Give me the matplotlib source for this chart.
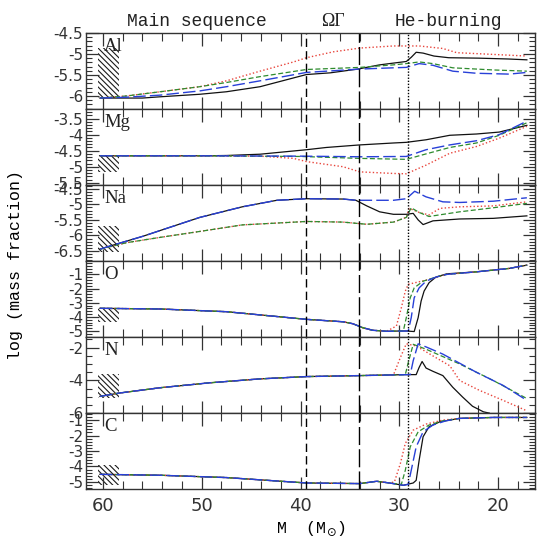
import matplotlib
matplotlib.use("Agg")
import matplotlib.pyplot as plt
from matplotlib.patches import Rectangle
from matplotlib.ticker import MultipleLocator, FixedLocator, FixedFormatter

# ---------------- data ----------------
# Al
AL_K_M = [60.3, 56, 54.2, 50.2, 47.5, 44.1, 40.7, 39.4, 37, 34.2, 32, 30, 29.3, 28.8, 28.3, 27.6, 26.5, 25, 22, 19, 17.1]
AL_K = [-6.05, -6.05, -6.02, -5.96, -5.9, -5.78, -5.57, -5.49, -5.45, -5.36, -5.26, -5.2, -5.18, -5.08, -4.96, -4.98, -5.05, -5.09, -5.1, -5.12, -5.14]
AL_R_M = [60.3, 57.6, 54.2, 50.2, 47.5, 44.1, 40.7, 39.4, 36.7, 34.0, 30.6, 28.0, 25.6, 24.2, 20.6, 17.1]
AL_R = [-6.05, -6.0, -5.9, -5.78, -5.64, -5.41, -5.19, -5.09, -4.95, -4.86, -4.81, -4.81, -4.87, -4.97, -5.01, -5.05]
AL_G_M = [60.3, 57.6, 54.2, 50.2, 47.5, 44.1, 39.4, 34.0, 30.6, 29.3, 28.0, 26.6, 24.6, 20.6, 17.1]
AL_G = [-6.05, -6.0, -5.9, -5.78, -5.68, -5.54, -5.37, -5.32, -5.26, -5.23, -5.19, -5.23, -5.33, -5.38, -5.41]
AL_B_M = [60.3, 57.6, 54.2, 50.2, 47.5, 44.1, 39.4, 34.0, 30.6, 29.3, 28.0, 26.6, 24.6, 22.2, 18.9, 17.1]
AL_B = [-6.05, -6.03, -5.98, -5.88, -5.78, -5.64, -5.44, -5.36, -5.33, -5.32, -5.23, -5.27, -5.41, -5.46, -5.48, -5.44]

# Mg
MG_K_M = [60.3, 50, 47.5, 44.1, 39.4, 37.4, 34.0, 30.6, 29.3, 27.3, 24.9, 22.2, 19.9, 17.1]
MG_K = [-4.66, -4.66, -4.65, -4.61, -4.47, -4.4, -4.32, -4.26, -4.24, -4.16, -4.02, -3.98, -3.92, -3.71]
MG_R_M = [60.3, 50, 44.1, 40.7, 39.4, 35.7, 34.0, 30.6, 29.3, 27.3, 24.9, 22.2, 19.9, 17.1]
MG_R = [-4.66, -4.66, -4.67, -4.74, -4.84, -5.0, -5.16, -5.21, -5.22, -4.95, -4.58, -4.37, -4.11, -3.74]
MG_G_M = [60.3, 50, 40, 34.0, 29.3, 27.3, 24.9, 22.2, 19.9, 17.1]
MG_G = [-4.66, -4.66, -4.68, -4.74, -4.77, -4.6, -4.4, -4.26, -4.02, -3.63]
MG_B_M = [60.3, 50, 40, 34.0, 29.3, 27.3, 24.9, 22.2, 19.9, 17.1]
MG_B = [-4.66, -4.66, -4.67, -4.69, -4.68, -4.47, -4.32, -4.19, -4.0, -3.58]

# Na
NA_K_M = [60.3, 59.3, 57.6, 55.9, 54.2, 50.2, 45.9, 42.4, 39.4, 35.7, 34.4, 33.3, 32.0, 30.6, 29.3, 28.6, 28.1, 27.6, 26.6, 23.9, 20.5, 17.1]
NA_K = [-6.44, -6.34, -6.18, -6.02, -5.84, -5.42, -5.08, -4.87, -4.82, -4.83, -4.87, -5.05, -5.24, -5.32, -5.32, -5.29, -5.5, -5.65, -5.53, -5.47, -5.45, -5.37]
NA_B_M = [60.3, 59.3, 57.6, 55.9, 54.2, 50.2, 45.9, 42.4, 39.4, 35.7, 34.4, 30.6, 29.3, 28.45, 27.3, 25.6, 23.9, 20.5, 17.1]
NA_B = [-6.44, -6.34, -6.18, -6.02, -5.84, -5.42, -5.08, -4.87, -4.82, -4.83, -4.87, -4.87, -4.82, -4.58, -4.76, -4.92, -4.94, -4.9, -4.79]
NA_G_M = [60.3, 57.6, 54.2, 50.2, 45.9, 39.4, 35.7, 33.3, 30.6, 29.3, 28.8, 28.0, 27.0, 23.9, 20.5, 17.1]
NA_G = [-6.44, -6.23, -6.06, -5.87, -5.66, -5.55, -5.57, -5.64, -5.57, -5.42, -5.11, -5.26, -5.39, -5.24, -5.11, -4.97]
NA_R_M = [60.3, 57.6, 54.2, 50.2, 45.9, 39.4, 35.7, 33.3, 30.6, 29.3, 29.0, 28.0, 27.0, 25.9, 23.9, 20.5, 17.1]
NA_R = [-6.44, -6.23, -6.06, -5.87, -5.66, -5.55, -5.57, -5.64, -5.57, -5.42, -5.13, -5.26, -5.34, -5.13, -5.08, -5.05, -4.92]

# O
O_K_M = [60.3, 54.2, 47.5, 39.4, 35.7, 34.7, 33.7, 32.7, 31.3, 29.9, 29.3, 28.5, 28.1, 27.8, 27.5, 27.0, 26.3, 25.2, 22.2, 18.9, 17.1]
O_K = [-3.39, -3.44, -3.63, -4.17, -4.34, -4.48, -4.76, -4.94, -5.01, -4.99, -4.99, -5.03, -4.05, -2.88, -2.18, -1.59, -1.19, -0.96, -0.82, -0.58, -0.35]
O_R_M = [60.3, 54.2, 47.5, 39.4, 35.7, 34.7, 33.7, 32.7, 31.3, 30.3, 29.8, 29.4, 29.1, 28.0, 26.6, 25.2, 22.2, 18.9, 17.1]
O_R = [-3.39, -3.44, -3.63, -4.17, -4.34, -4.48, -4.76, -4.94, -5.01, -4.64, -3.35, -2.18, -1.7, -1.52, -1.29, -1.0, -0.82, -0.58, -0.35]
O_G_M = [60.3, 54.2, 47.5, 39.4, 35.7, 34.7, 33.7, 32.7, 31.3, 29.6, 29.3, 28.9, 28.5, 27.6, 26.3, 25.2, 22.2, 18.9, 17.1]
O_G = [-3.39, -3.44, -3.63, -4.17, -4.34, -4.48, -4.76, -4.94, -5.01, -4.99, -4.05, -2.65, -1.95, -1.48, -1.19, -1.0, -0.82, -0.58, -0.35]
O_B_M = [60.3, 54.2, 47.5, 39.4, 35.7, 34.7, 33.7, 32.7, 31.3, 29.1, 28.8, 28.5, 28.0, 27.3, 26.3, 25.2, 22.2, 18.9, 17.1]
O_B = [-3.39, -3.44, -3.63, -4.17, -4.34, -4.48, -4.76, -4.94, -5.01, -4.99, -4.05, -2.65, -1.95, -1.48, -1.19, -1.0, -0.82, -0.58, -0.35]

# N
N_K_M = [60.3, 58.4, 54.2, 49.2, 44.1, 39.4, 34.0, 29.3, 28.3, 28.0, 27.7, 27.3, 26.6, 25.6, 24.6, 23.6, 22.6, 21.5, 20.9]
N_K = [-4.98, -4.78, -4.45, -4.15, -3.91, -3.77, -3.71, -3.65, -3.65, -3.21, -2.85, -3.25, -3.45, -3.71, -4.42, -5.02, -5.58, -5.92, -6.0]
N_R_M = [60.3, 58.4, 54.2, 49.2, 44.1, 39.4, 34.0, 30.6, 29.9, 29.3, 28.3, 26.6, 24.9, 23.9, 21.9, 19.5, 17.1]
N_R = [-4.98, -4.78, -4.45, -4.15, -3.91, -3.77, -3.71, -3.67, -2.61, -1.77, -1.9, -2.51, -3.11, -4.01, -4.61, -5.22, -5.86]
N_G_M = [60.3, 58.4, 54.2, 49.2, 44.1, 39.4, 34.0, 29.4, 29.1, 28.6, 27.3, 23.9, 20.5, 17.1]
N_G = [-4.98, -4.78, -4.45, -4.15, -3.91, -3.77, -3.71, -3.65, -2.91, -1.8, -2.1, -3.0, -4.01, -5.11]
N_B_M = [60.3, 58.4, 54.2, 49.2, 44.1, 39.4, 34.0, 28.9, 28.6, 28.1, 27.3, 25.6, 22.2, 19.5, 17.1]
N_B = [-4.98, -4.78, -4.45, -4.15, -3.91, -3.77, -3.71, -3.65, -2.8, -1.77, -1.96, -2.4, -3.51, -4.31, -5.22]

# C
C_K_M = [60.3, 54.2, 47.5, 42.4, 39.4, 34.0, 32.3, 31.0, 29.6, 28.6, 28.3, 28.0, 27.6, 27.0, 25.9, 23.9, 20.5, 17.1]
C_K = [-4.51, -4.57, -4.72, -4.94, -5.07, -5.11, -4.96, -5.07, -5.22, -5.07, -4.9, -3.6, -2.08, -1.43, -1.11, -0.89, -0.83, -0.83]
C_R_M = [60.3, 54.2, 47.5, 42.4, 39.4, 34.0, 32.3, 31.0, 30.5, 29.9, 29.4, 28.6, 27.3, 25.6, 23.9, 20.5, 17.1]
C_R = [-4.51, -4.57, -4.72, -4.94, -5.07, -5.11, -4.96, -5.07, -5.0, -3.81, -2.51, -1.65, -1.26, -1.0, -0.89, -0.83, -0.83]
C_G_M = [60.3, 54.2, 47.5, 42.4, 39.4, 34.0, 32.3, 31.0, 29.8, 29.4, 28.9, 28.1, 27.0, 25.6, 23.9, 20.5, 17.1]
C_G = [-4.51, -4.57, -4.72, -4.94, -5.07, -5.11, -4.96, -5.07, -5.16, -4.25, -2.73, -1.76, -1.32, -1.05, -0.89, -0.83, -0.83]
C_B_M = [60.3, 54.2, 47.5, 42.4, 39.4, 34.0, 32.3, 31.0, 29.6, 29.1, 28.8, 28.3, 27.6, 26.6, 25.3, 23.9, 20.5, 17.1]
C_B = [-4.51, -4.57, -4.72, -4.94, -5.07, -5.11, -4.96, -5.07, -5.22, -5.16, -4.25, -2.73, -1.76, -1.32, -1.05, -0.89, -0.83, -0.83]

ELEMENTS = ["Al", "Mg", "Na", "O", "N", "C"]
YLIMS = [(-6.31, -4.5), (-5.57, -3.2), (-6.82, -4.38), (-5.42, -0.06), (-6.0, -1.36), (-5.47, -0.55)]
YTICKS = [[-4.5, -5, -5.5, -6], [-3.5, -4, -4.5, -5, -5.5], [-4.5, -5, -5.5, -6, -6.5],
          [-1, -2, -3, -4, -5], [-2, -4, -6], [-1, -2, -3, -4, -5]]
YMINOR = [0.1, 0.1, 0.1, 0.2, 0.5, 0.2]
HATCH_Y = [(-6.05, -4.86), (-5.15, -4.62), (-6.54, -5.69), (-4.38, -3.34), (-5.05, -3.6), (-5.2, -3.9)]
HATCH_M = (58.4, 60.5)
XTICKS = [60, 50, 40, 30, 20]
PHASE_M = [39.4, 34.1, 29.1]
PHASE_LABELS = ["Main sequence", "ΩΓ", "He-burning"]

SERIES = {
    "Al": [(AL_K_M, AL_K), (AL_R_M, AL_R), (AL_G_M, AL_G), (AL_B_M, AL_B)],
    "Mg": [(MG_K_M, MG_K), (MG_R_M, MG_R), (MG_G_M, MG_G), (MG_B_M, MG_B)],
    "Na": [(NA_K_M, NA_K), (NA_R_M, NA_R), (NA_G_M, NA_G), (NA_B_M, NA_B)],
    "O": [(O_K_M, O_K), (O_R_M, O_R), (O_G_M, O_G), (O_B_M, O_B)],
    "N": [(N_K_M, N_K), (N_R_M, N_R), (N_G_M, N_G), (N_B_M, N_B)],
    "C": [(C_K_M, C_K), (C_R_M, C_R), (C_G_M, C_G), (C_B_M, C_B)],
}

STYLES = [
    dict(color="#111111", ls="-", lw=0.9),
    dict(color="#e8453c", ls=(0, (1, 1.6)), lw=1.0),
    dict(color="#2e8b2e", ls=(0, (4, 2)), lw=0.9),
    dict(color="#2840d8", ls=(0, (9, 3)), lw=1.0),
]

plt.rcParams["hatch.linewidth"] = 0.8
fig = plt.figure(figsize=(5.38, 5.49), dpi=100)
gs = fig.add_gridspec(6, 1, left=0.16, right=0.994, bottom=0.109, top=0.94, hspace=0)
axes = [fig.add_subplot(gs[i]) for i in range(6)]

for i, (ax, el) in enumerate(zip(axes, ELEMENTS)):
    for (m, v), st in zip(SERIES[el], STYLES):
        ax.plot(m, v, **st)
    ylo, yhi = HATCH_Y[i]
    ax.add_patch(Rectangle((HATCH_M[0], ylo), HATCH_M[1] - HATCH_M[0], yhi - ylo,
                           fill=False, hatch="\\\\\\\\\\\\", lw=0, edgecolor="#1a1a1a"))
    ax.axvline(PHASE_M[0], color="black", ls=(0, (6, 3)), lw=1.0)
    ax.axvline(PHASE_M[1], color="black", ls=(0, (13, 3)), lw=1.0)
    ax.axvline(PHASE_M[2], color="black", ls=(0, (1, 1.2)), lw=1.0)
    ax.set_xlim(61.7, 16.3)
    ax.set_ylim(*YLIMS[i])
    ax.xaxis.set_major_locator(FixedLocator(XTICKS))
    ax.xaxis.set_minor_locator(MultipleLocator(2))
    ax.yaxis.set_major_locator(FixedLocator(YTICKS[i]))
    ax.yaxis.set_major_formatter(FixedFormatter(["%g" % t for t in YTICKS[i]]))
    ax.yaxis.set_minor_locator(MultipleLocator(YMINOR[i]))
    ax.tick_params(which="both", direction="in", top=True, right=True, colors="#333333")
    ax.tick_params(which="major", length=9, width=0.9)
    ax.tick_params(which="minor", length=6, width=0.8)
    ax.tick_params(axis="y", which="minor", length=4)
    ax.tick_params(axis="y", labelsize=11, pad=2)
    for lab in ax.get_yticklabels():
        lab.set_fontfamily("DejaVu Sans")
        lab.set_color("#333333")
    if i < 5:
        ax.tick_params(axis="x", labelbottom=False)
    for sp in ax.spines.values():
        sp.set_linewidth(1.0)
        sp.set_color("#333333")
    ax.text(0.04, 0.93, el, transform=ax.transAxes, ha="left", va="top",
            fontsize=13.5, family="Liberation Serif", color="#222222")

axes[-1].tick_params(axis="x", labelsize=13, pad=6, labelcolor="#333333")
axes[-1].set_xlabel("M  (M$_{\\odot}$)", fontsize=12, family="Liberation Mono", labelpad=3)
fig.text(0.028, 0.517, "log (mass fraction)", rotation=90, ha="center", va="center",
         fontsize=12, family="Liberation Mono")

for m, lab in zip([50.5, 36.7, 25.0], PHASE_LABELS):
    fam = "Liberation Serif" if lab == "ΩΓ" else "Liberation Mono"
    axes[0].text(m, 1.04, lab, transform=axes[0].get_xaxis_transform(), ha="center",
                 va="bottom", fontsize=13, family=fam, color="#222222")

fig.savefig("out.png", dpi=100)
